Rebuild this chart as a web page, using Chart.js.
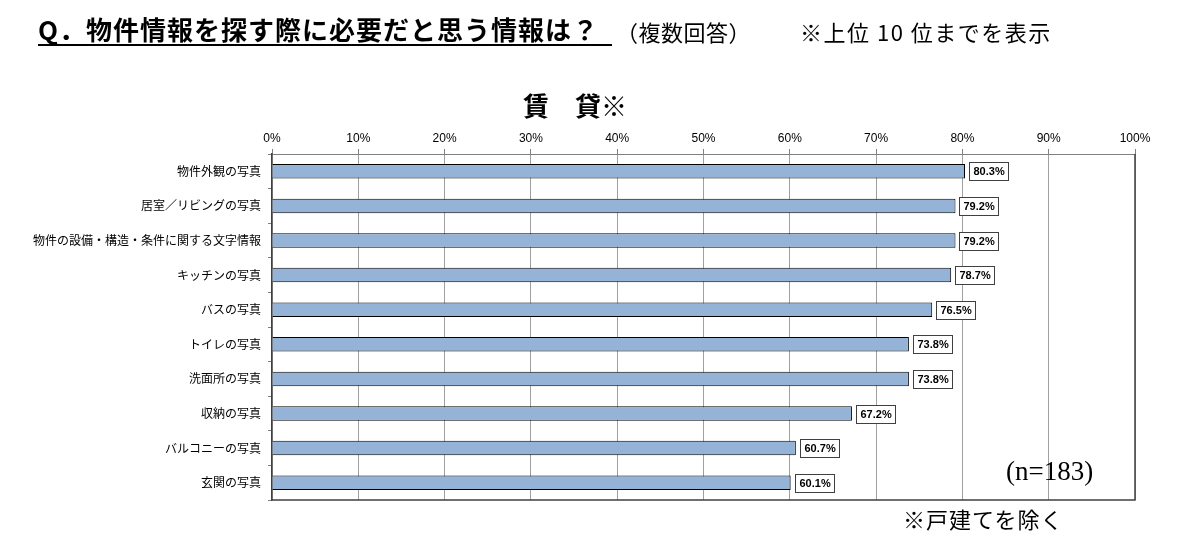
<!DOCTYPE html>
<html><head><meta charset="utf-8">
<script src="https://cdn.jsdelivr.net/npm/chart.js@4.4.0/dist/chart.umd.min.js"></script>
<style>
html,body{margin:0;padding:0;background:#fff;width:1186px;height:550px;overflow:hidden;font-family:"Noto Sans CJK JP","Noto Sans",sans-serif;}
#wrap{position:relative;width:1186px;height:550px;}
canvas{position:absolute;left:0;top:0;}
.t{position:absolute;white-space:nowrap;color:#000;}
</style></head><body>
<div id="wrap">
<canvas id="c" width="1186" height="550"></canvas>
<div class="t" style="left:38px;top:14px;width:574px;font-size:26px;letter-spacing:1px;font-weight:bold;border-bottom:2px solid #000;line-height:30px;">Q．物件情報を探す際に必要だと思う情報は？</div>
<div class="t" style="left:616px;top:16px;font-size:22px;letter-spacing:0.5px;line-height:30px;">（複数回答）</div>
<div class="t" style="left:800px;top:16px;font-size:22px;letter-spacing:1.5px;line-height:30px;">※上位 10 位までを表示</div>
<div class="t" style="left:523px;top:88px;font-size:26px;font-weight:bold;line-height:34px;">賃　貸<span style="font-weight:normal">※</span></div>
<div class="t" style="left:1006px;top:454px;font-size:27px;line-height:34px;font-family:'Liberation Serif','DejaVu Serif',serif;">(n=183)</div>
<div class="t" style="left:903px;top:503px;font-size:22px;letter-spacing:1px;line-height:30px;">※戸建てを除く</div>
</div>
<script>
const categories = ["物件外観の写真","居室／リビングの写真","物件の設備・構造・条件に関する文字情報","キッチンの写真","バスの写真","トイレの写真","洗面所の写真","収納の写真","バルコニーの写真","玄関の写真"];
const values = [80.3,79.2,79.2,78.7,76.5,73.8,73.8,67.2,60.7,60.1];
const xTicks = [0,10,20,30,40,50,60,70,80,90,100];

const labelPlugin = {
  id:'boxLabels',
  afterDatasetsDraw(chart){
    const ctx = chart.ctx;
    const meta = chart.getDatasetMeta(0);
    ctx.save();
    ctx.font = 'bold 11px "Liberation Sans","DejaVu Sans",sans-serif';
    meta.data.forEach((bar,i)=>{
      const txt = values[i].toFixed(1)+'%';
      const w = Math.round(ctx.measureText(txt).width + 8);
      const h = 18;
      const x = Math.round(bar.x + 4), y = Math.round(bar.y - h/2);
      ctx.fillStyle='#fff';
      ctx.fillRect(x,y,w,h);
      ctx.strokeStyle='#404040';
      ctx.lineWidth=1;
      ctx.strokeRect(x+0.5,y+0.5,w,h);
      ctx.fillStyle='#000';
      ctx.textBaseline='middle';
      ctx.textAlign='left';
      ctx.fillText(txt,x+4.5,bar.y+1);
    });
    ctx.restore();
  }
};
const borderPlugin = {
  id:'areaBorder',
  afterDraw(chart){
    const a = chart.chartArea, ctx = chart.ctx;
    ctx.save();
    ctx.strokeStyle='#404040';
    ctx.lineWidth=1.5;
    ctx.beginPath();
    ctx.moveTo(a.right, a.top);
    ctx.lineTo(a.right, a.bottom);
    ctx.lineTo(a.left, a.bottom);
    ctx.stroke();
    ctx.restore();
  }
};

new Chart(document.getElementById('c'),{
  type:'bar',
  data:{labels:categories,datasets:[{data:values,backgroundColor:'#95b3d7',borderColor:'#000',borderWidth:1,barPercentage:0.42,categoryPercentage:1}]},
  options:{
    indexAxis:'y',responsive:false,animation:false,
    layout:{padding:{left:0,top:0,right:51,bottom:50}},
    plugins:{legend:{display:false},tooltip:{enabled:false}},
    scales:{
      x:{position:'top',min:0,max:100,
        afterBuildTicks(s){s.ticks = xTicks.map(v=>({value:v}));},
        afterFit(s){s.height=154;},
        ticks:{callback:v=>v+'%',color:'#000',font:{size:12,family:'"Liberation Sans","DejaVu Sans",sans-serif'},padding:3,maxRotation:0},
        grid:{color:'#a0a0a0',lineWidth:1,tickLength:5,tickColor:'#808080'},
        border:{color:'#808080',width:1}
      },
      y:{
        afterFit(s){s.width=272;},
        ticks:{color:'#000',font:{size:12,family:'"Noto Sans CJK JP",sans-serif'},padding:7},
        grid:{offset:true,drawOnChartArea:false,tickLength:4,color:'#808080'},
        border:{color:'#404040',width:1.5}
      }
    }
  },
  plugins:[labelPlugin,borderPlugin]
});
</script>
</body></html>
